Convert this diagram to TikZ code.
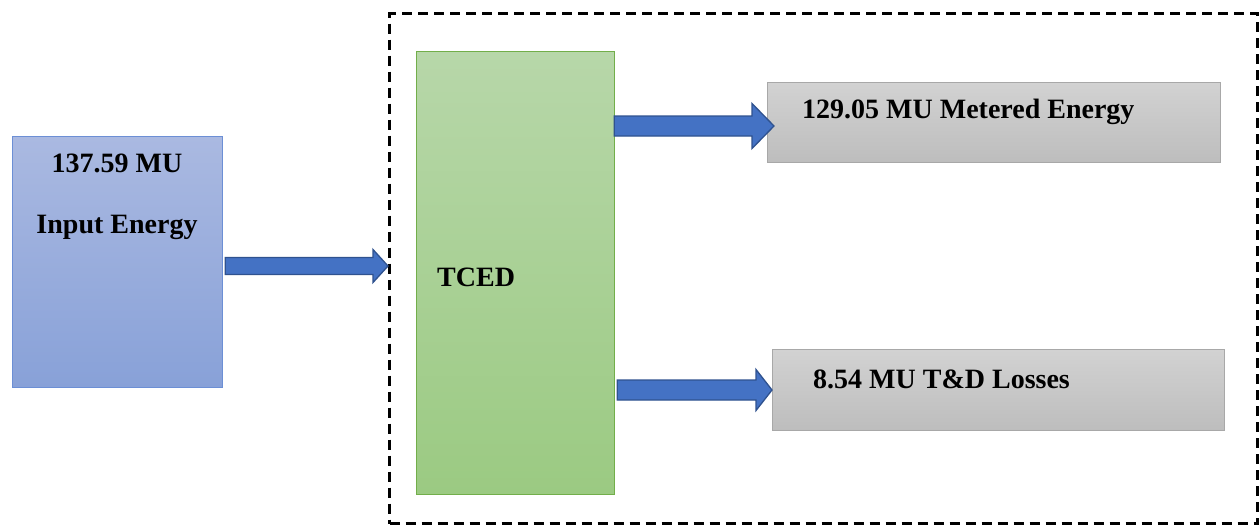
\documentclass[tikz,border=0pt]{standalone}
\usepackage{fontspec}
\setmainfont{Liberation Serif}
\usetikzlibrary{calc}
\definecolor{inTop}{HTML}{AAB9E1}
\definecolor{inBot}{HTML}{88A1D8}
\definecolor{inLine}{HTML}{6C8FD5}
\definecolor{gTop}{HTML}{B7D7A9}
\definecolor{gBot}{HTML}{9BCA82}
\definecolor{gLine}{HTML}{72AE4A}
\definecolor{grTop}{HTML}{D2D2D2}
\definecolor{grBot}{HTML}{BDBDBD}
\definecolor{grLine}{HTML}{A8A8A8}
\definecolor{arFill}{HTML}{4472C4}
\definecolor{arLine}{HTML}{2F528F}
\tikzset{
  boxbase/.style={rectangle,inner sep=0pt,anchor=north west,line width=1.3pt},
  inbox/.style={boxbase,draw=inLine,top color=inTop,bottom color=inBot},
  tcedbox/.style={boxbase,draw=gLine,top color=gTop,bottom color=gBot},
  outbox/.style={boxbase,draw=grLine,top color=grTop,bottom color=grBot},
  framebox/.style={rectangle,inner sep=0pt,anchor=north west,draw=black,line width=3pt,dash pattern=on 10pt off 6pt},
  lbl/.style={font=\bfseries\fontsize{28}{33}\selectfont,inner sep=0pt},
  arrowstyle/.style={fill=arFill,draw=arLine,line width=1.3pt,line join=miter}
}
\newcommand\blockarrow[5]{%
  \path[arrowstyle] let \p1=(#1), \p2=(#2) in
    (\x1,\y1-#3) -- (\x2-#5,\y1-#3) -- (\x2-#5,\y1-#4) -- (\x2,\y1)
    -- (\x2-#5,\y1+#4) -- (\x2-#5,\y1+#3) -- (\x1,\y1+#3) -- cycle;}
\begin{document}
\begin{tikzpicture}[x=1pt,y=-1pt]
\useasboundingbox (0,0) rectangle (1260,525);
\node[framebox,minimum width=868pt,minimum height=510pt] (frame) at (388,12) {};
\node[inbox,minimum width=210pt,minimum height=251pt] (inp) at (12,136) {};
\node[tcedbox,minimum width=198pt,minimum height=443pt] (tced) at (416,51) {};
\node[outbox,minimum width=453pt,minimum height=80pt] (met) at (767,82) {};
\node[outbox,minimum width=452pt,minimum height=81pt] (loss) at (772,349) {};
\node[lbl] (t1) at (117,163) {137.59 MU};
\node[lbl] (t2) at (117,227) {Input Energy};
\node[lbl,anchor=west] (t3) at (437,277) {TCED};
\node[lbl,anchor=west] (t4) at (802,112) {129.05 MU Metered Energy};
\node[lbl,anchor=west] (t5) at (813,379) {8.54 MU T\&D Losses};
\coordinate (a1s) at ($(inp.east |- 0,266)+(2,0)$);
\coordinate (a1e) at (frame.west |- 0,266);
\coordinate (a2s) at ($(tced.east |- 0,126)+(-1,0)$);
\coordinate (a2e) at ($(met.west |- 0,126)+(7,0)$);
\coordinate (a3s) at ($(tced.east |- 0,390)+(2,0)$);
\coordinate (a3e) at (loss.west |- 0,390);
\blockarrow{a1s}{a1e}{8.5pt}{16.5pt}{15pt}
\blockarrow{a2s}{a2e}{10pt}{22.5pt}{22pt}
\blockarrow{a3s}{a3e}{10pt}{20.5pt}{16pt}
\end{tikzpicture}
\end{document}
